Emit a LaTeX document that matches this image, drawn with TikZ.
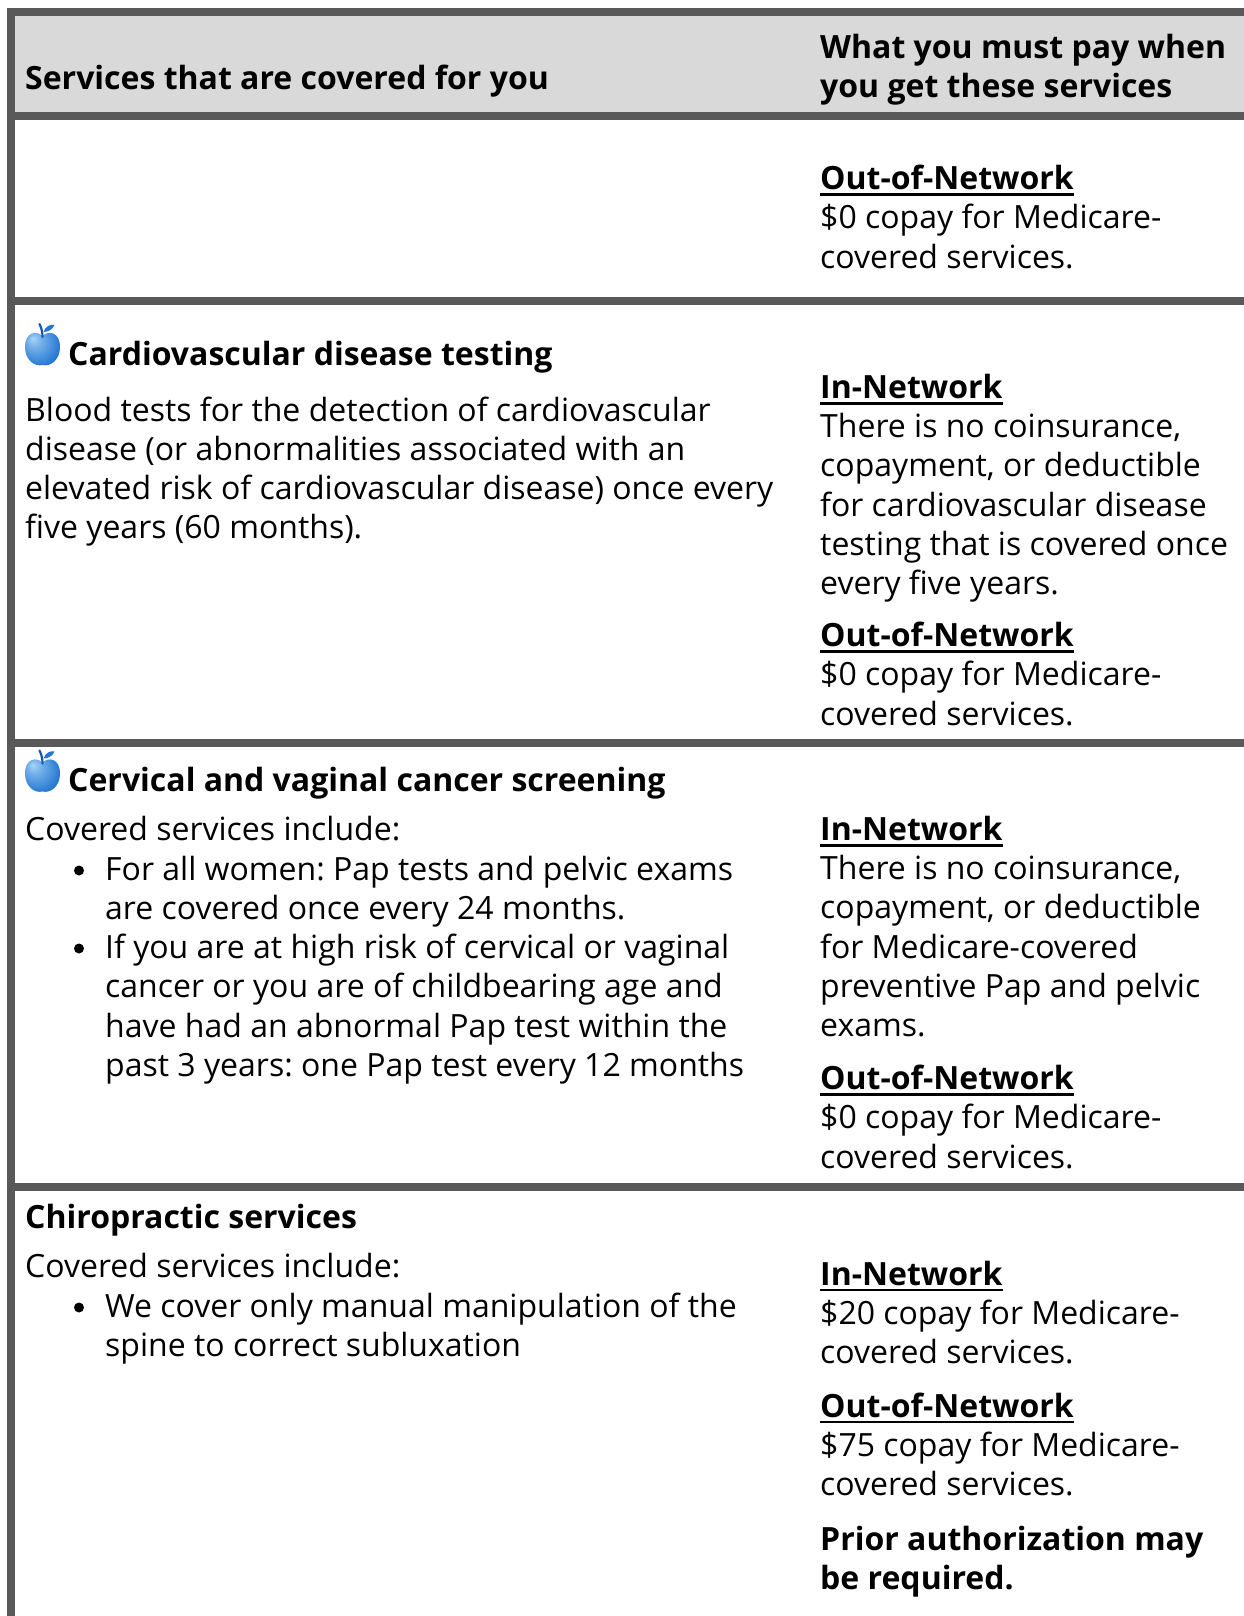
\documentclass[tikz,border=0pt]{standalone}
\usepackage{fontspec}
\setmainfont{Open Sans}
\frenchspacing
\definecolor{bargray}{HTML}{595959}
\definecolor{headfill}{HTML}{D9D9D9}
\definecolor{appleblue}{HTML}{2477D2}
\definecolor{applelight}{HTML}{A8D6F8}
\definecolor{appledark}{HTML}{1759AE}
\pgfdeclareradialshading{applesh}{\pgfpoint{-14bp}{14bp}}{color(0bp)=(applelight); color(10bp)=(applelight!60!appleblue); color(30bp)=(appleblue); color(45bp)=(appledark); color(50bp)=(appledark)}
\newcommand\myul[1]{\setbox0\hbox{#1}\rlap{\rule[-6pt]{\wd0}{2.5pt}}\box0}
\tikzset{
  txt/.style={anchor=base west, inner sep=0pt, align=left, font=\fontsize{32}{39.2}\selectfont},
  btxt/.style={txt, font=\fontsize{32}{39.2}\selectfont\bfseries},
  bar/.style={fill=bargray, draw=none},
  dot/.style={circle, fill=black, inner sep=0pt, minimum size=10pt},
  apple/.pic={
    \shade[shading=applesh] (0,12) .. controls (-6,6) and (-18,8) .. (-17.5,24)
      .. controls (-17,36) and (-8,43) .. (0,41)
      .. controls (8,43) and (17,36) .. (17.5,24)
      .. controls (18,8) and (6,6) .. (0,12) -- cycle;
    \draw[appledark, line width=2.2pt, line cap=round] (0,13) .. controls (0,8) and (-1,4) .. (-3,0);
    \fill[appleblue] (1,8) .. controls (3,2) and (8,0) .. (12,1) .. controls (10,6) and (5,8) .. (1,8) -- cycle;
  }
}
\begin{document}
\begin{tikzpicture}[x=1pt,y=-1pt]
\useasboundingbox (0,0) rectangle (1244,1616);
\fill[white] (0,0) rectangle (1244,1616);
% header
\fill[headfill] (15,16) rectangle (1244,112);
\fill[bar] (7,8) rectangle (1244,16);
\fill[bar] (7,112) rectangle (1244,120);
\fill[bar] (7,297) rectangle (1244,305);
\fill[bar] (7,739) rectangle (1244,747);
\fill[bar] (7,1183) rectangle (1244,1191);
\fill[bar] (7,8) rectangle (15,1616);

% multi-line nodes are placed by the baseline of their last line
\node[btxt] (hl) at (25,90) {Services that are covered for you};
\node[btxt] (hr) at (820,98) {What you must pay when\\you get these services};

% row 1
\node[txt] (r1out) at (820,268) {\bfseries\myul{Out-of-Network}\\\$0 copay for Medicare-\\covered services.};

% row 2
\pic at (42.5,324) {apple};
\node[btxt] (r2t) at (68,365.5) {Cardiovascular disease testing};
\node[txt] (r2b) at (25,538.6) {Blood tests for the detection of cardiovascular\\disease (or abnormalities associated with an\\elevated risk of cardiovascular disease) once every\\five years (60 months).};
\node[txt] (r2in) at (820,594.5) {\bfseries\myul{In-Network}\\There is no coinsurance,\\copayment, or deductible\\for cardiovascular disease\\testing that is covered once\\every five years.};
\node[txt] (r2out) at (820,725) {\bfseries\myul{Out-of-Network}\\\$0 copay for Medicare-\\covered services.};

% row 3
\pic at (42.5,750.5) {apple};
\node[btxt] (r3t) at (68,791.5) {Cervical and vaginal cancer screening};
\node[txt] (r3c) at (25,840.5) {Covered services include:};
\node[dot] (r3d1) at (79,870.5) {};
\node[txt] (r3b1) at (105,919.7) {For all women: Pap tests and pelvic exams\\are covered once every 24 months.};
\node[dot] (r3d2) at (79,948.5) {};
\node[txt] (r3b2) at (105,1076.3) {If you are at high risk of cervical or vaginal\\cancer or you are of childbearing age and\\have had an abnormal Pap test within the\\past 3 years: one Pap test every 12 months};
\node[txt] (r3in) at (820,1036.5) {\bfseries\myul{In-Network}\\There is no coinsurance,\\copayment, or deductible\\for Medicare-covered\\preventive Pap and pelvic\\exams.};
\node[txt] (r3out) at (820,1168) {\bfseries\myul{Out-of-Network}\\\$0 copay for Medicare-\\covered services.};

% row 4
\node[btxt] (r4t) at (25,1228.5) {Chiropractic services};
\node[txt] (r4c) at (25,1277.5) {Covered services include:};
\node[dot] (r4d1) at (79,1307.5) {};
\node[txt] (r4b1) at (105,1356.7) {We cover only manual manipulation of the\\spine to correct subluxation};
\node[txt] (r4in) at (820,1363.5) {\bfseries\myul{In-Network}\\\$20 copay for Medicare-\\covered services.};
\node[txt] (r4out) at (820,1495.5) {\bfseries\myul{Out-of-Network}\\\$75 copay for Medicare-\\covered services.};
\node[btxt] (r4pa) at (820,1589.2) {Prior authorization may\\be required.};
\end{tikzpicture}
\end{document}
